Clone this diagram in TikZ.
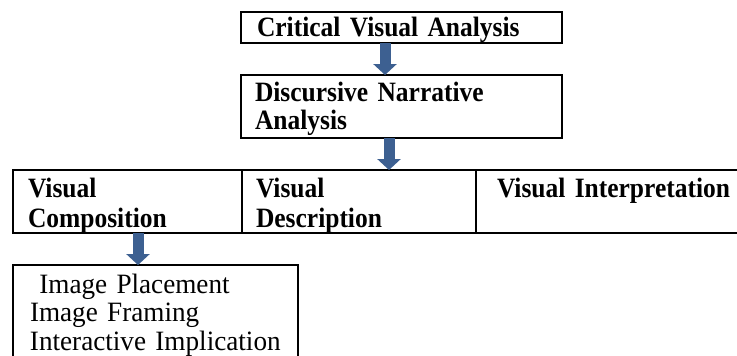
\documentclass[tikz,border=0pt]{standalone}
\usepackage{fontspec}
\setmainfont{Liberation Serif}[FakeStretch=0.97,BoldFeatures={FakeStretch=0.91}]
\usetikzlibrary{arrows.meta,positioning}
\definecolor{bleu}{RGB}{61,96,145}
\tikzstyle{boite} = [draw,rectangle,line width=1pt,anchor=north west,inner ysep=0pt,outer sep=0pt,align=left]
\tikzstyle{titre} = [font=\fontsize{14}{15}\selectfont\bfseries]
\tikzstyle{texte} = [font=\fontsize{14}{14.25}\selectfont]
\tikzstyle{fleche} = [-{Triangle[width=11.5pt,length=5.5pt]},draw=bleu,line width=5.5pt]

\begin{document}
\begin{tikzpicture}[x=0.5pt,y=-0.5pt]
	\useasboundingbox (0,0) rectangle (737,355);

	\node[boite,titre,inner xsep=8pt,text width=144.5pt,text height=12pt,text depth=3.5pt] (cva) at (241,12) {Critical Visual Analysis};
	\node[boite,titre,font=\fontsize{14}{14}\selectfont\bfseries,inner xsep=7pt,text width=146.5pt,text height=13pt,text depth=18.5pt] (dna) at (241,75) {Discursive Narrative\\Analysis};

	% visual analysis row
	\node[boite,titre,inner xsep=7.5pt,text width=99.5pt,text height=13.5pt,text depth=18pt] (comp) at (13,170) {Visual\\Composition};
	\node[boite,titre,inner xsep=7pt,text width=103pt,text height=13.5pt,text depth=18pt,right=0pt of comp] (desc) {Visual\\Description};
	\node[boite,titre,inner xsep=10.5pt,text width=129pt,text height=13.5pt,text depth=18pt,right=0pt of desc] (interp) {Visual Interpretation};

	\node[boite,texte,inner xsep=8.5pt,text width=125.5pt,text height=14pt,text depth=36pt] (place) at (13,265) {\ Image Placement\\Image Framing\\Interactive Implication};

	\draw[fleche] ([xshift=-8.25pt]cva.south) -- ([xshift=-8.25pt]dna.north);
	\draw[fleche] ([xshift=-6.25pt]dna.south) -- ([xshift=-6.25pt]dna.south |- desc.north);
	\draw[fleche] ([xshift=5.25pt]comp.south) -- ([xshift=5.25pt]comp.south |- place.north);
\end{tikzpicture}
\end{document}
